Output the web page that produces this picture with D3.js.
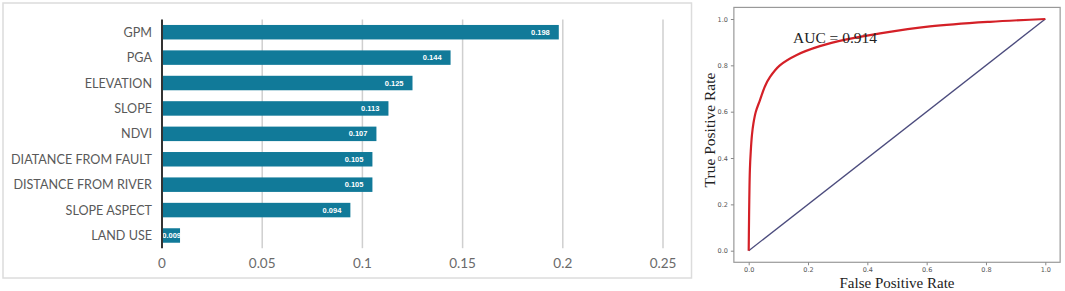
<!DOCTYPE html>
<html>
<head>
<meta charset="utf-8">
<script src="https://cdn.jsdelivr.net/npm/d3@7/dist/d3.min.js"></script>
<style>
  html, body { margin: 0; padding: 0; background: #fff; }
  svg { display: block; }
</style>
</head>
<body>
<svg id="chart" width="1065" height="291"></svg>
<script>
// ---- Data: feature importance ----
const categories = ["GPM", "PGA", "ELEVATION", "SLOPE", "NDVI", "DIATANCE FROM FAULT", "DISTANCE FROM RIVER", "SLOPE ASPECT", "LAND USE"];
const importance = [0.198, 0.144, 0.125, 0.113, 0.107, 0.105, 0.105, 0.094, 0.009];
const barTicks = [0, 0.05, 0.1, 0.15, 0.2, 0.25];
const barTickLabels = ["0", "0.05", "0.1", "0.15", "0.2", "0.25"];

// ---- Data: ROC curve ----
const fpr = [0, 0.001, 0.002, 0.004, 0.007, 0.011, 0.016, 0.024, 0.038, 0.055, 0.072, 0.105, 0.162, 0.24, 0.33, 0.443, 0.611, 0.813, 1.0];
const tpr = [0, 0.12, 0.22, 0.35, 0.43, 0.50, 0.55, 0.60, 0.65, 0.71, 0.75, 0.80, 0.845, 0.883, 0.912, 0.938, 0.968, 0.988, 1.0];
const rocTicks = [0, 0.2, 0.4, 0.6, 0.8, 1.0];
const rocTickLabels = ["0.0", "0.2", "0.4", "0.6", "0.8", "1.0"];
const aucLabel = "AUC = 0.914";

const svg = d3.select("#chart");

// ===== Left panel: bar chart =====
svg.append("rect").attr("x", 3).attr("y", 3).attr("width", 688.5).attr("height", 275)
  .attr("fill", "#fff").attr("stroke", "#dcdcdc").attr("stroke-width", 1.5);

const x = d3.scaleLinear().domain([0, 0.25]).range([162, 663]);
const y = d3.scaleBand().domain(categories).range([19.5, 248.2]).paddingInner(0.43).paddingOuter(0.215);

// gridlines
svg.append("g").selectAll("line").data(barTicks.filter(d => d > 0)).join("line")
  .attr("x1", d => x(d)).attr("x2", d => x(d))
  .attr("y1", 19.5).attr("y2", 248.2)
  .attr("stroke", "#cfcfcf").attr("stroke-width", 1.5);

// bars
const barG = svg.append("g");
barG.selectAll("rect").data(categories).join("rect")
  .attr("x", x(0)).attr("y", d => y(d))
  .attr("width", (d, i) => x(importance[i]) - x(0))
  .attr("height", y.bandwidth())
  .attr("fill", "#117a99");

// value labels
barG.selectAll("text").data(categories).join("text")
  .attr("x", (d, i) => Math.max(x(importance[i]) - 9, x(0) + 19))
  .attr("y", d => y(d) + y.bandwidth() / 2)
  .attr("dy", "0.35em")
  .attr("text-anchor", "end")
  .attr("font-family", "Liberation Sans, Arial, sans-serif")
  .attr("font-size", "7.5px")
  .attr("font-weight", "bold")
  .attr("fill", "#fff")
  .text((d, i) => importance[i].toFixed(3));

// category labels
svg.append("g").selectAll("text").data(categories).join("text")
  .attr("x", 152)
  .attr("y", d => y(d) + y.bandwidth() / 2)
  .attr("dy", "0.36em")
  .attr("text-anchor", "end")
  .attr("font-family", "Lato, 'Open Sans', sans-serif")
  .attr("font-size", "12.6px")
  .attr("fill", "#595959")
  .text(d => d);

// y axis line at 0
svg.append("line").attr("x1", x(0)).attr("x2", x(0)).attr("y1", 19.5).attr("y2", 248.2)
  .attr("stroke", "#333").attr("stroke-width", 2);

// x tick labels
svg.append("g").selectAll("text").data(barTicks).join("text")
  .attr("x", d => x(d)).attr("y", 263)
  .attr("dy", "0.36em")
  .attr("text-anchor", "middle")
  .attr("font-family", "Lato, 'Open Sans', sans-serif")
  .attr("font-size", "13.5px")
  .attr("fill", "#6a6a6a")
  .text((d, i) => barTickLabels[i]);

// ===== Right panel: ROC =====
const rx = d3.scaleLinear().domain([0, 1]).range([748.7, 1045.3]);
const ry = d3.scaleLinear().domain([0, 1]).range([250.7, 19]);

svg.append("rect")
  .attr("x", rx(-0.05)).attr("y", ry(1.05))
  .attr("width", rx(1.05) - rx(-0.05)).attr("height", ry(-0.05) - ry(1.05))
  .attr("fill", "none").attr("stroke", "#999").attr("stroke-width", 1.2);

const xAxisG = svg.append("g").attr("transform", `translate(0,${ry(-0.05)})`)
  .call(d3.axisBottom(rx).tickValues(rocTicks).tickSize(3).tickPadding(2).tickFormat((d, i) => rocTickLabels[i]));
const yAxisG = svg.append("g").attr("transform", `translate(${rx(-0.05)},0)`)
  .call(d3.axisLeft(ry).tickValues(rocTicks).tickSize(3).tickPadding(3).tickFormat((d, i) => rocTickLabels[i]));
[xAxisG, yAxisG].forEach(g => {
  g.select(".domain").remove();
  g.selectAll(".tick line").attr("stroke", "#888");
  g.selectAll(".tick text").attr("fill", "#555").attr("font-size", "6.5px")
    .attr("font-family", "DejaVu Sans, sans-serif");
});

// diagonal
svg.append("line").attr("x1", rx(0)).attr("y1", ry(0)).attr("x2", rx(1)).attr("y2", ry(1))
  .attr("stroke", "#4b4b7d").attr("stroke-width", 1.3);

// ROC curve
const rocData = fpr.map((f, i) => [f, tpr[i]]);
svg.append("path").datum(rocData)
  .attr("d", d3.line().x(d => rx(d[0])).y(d => ry(d[1])).curve(d3.curveCatmullRom.alpha(0.5)))
  .attr("fill", "none").attr("stroke", "#d42027").attr("stroke-width", 2.2);

// AUC text
svg.append("text").attr("x", 793).attr("y", 43)
  .attr("font-family", "Liberation Serif, 'Times New Roman', serif")
  .attr("font-size", "15.5px").attr("fill", "#222")
  .text(aucLabel);

// axis labels
svg.append("text").attr("x", 897).attr("y", 288)
  .attr("text-anchor", "middle")
  .attr("font-family", "Liberation Serif, 'Times New Roman', serif")
  .attr("font-size", "15px").attr("fill", "#222")
  .text("False Positive Rate");
svg.append("text")
  .attr("transform", "translate(715,130) rotate(-90)")
  .attr("text-anchor", "middle")
  .attr("font-family", "Liberation Serif, 'Times New Roman', serif")
  .attr("font-size", "15.5px").attr("fill", "#222")
  .text("True Positive Rate");
</script>
</body>
</html>
